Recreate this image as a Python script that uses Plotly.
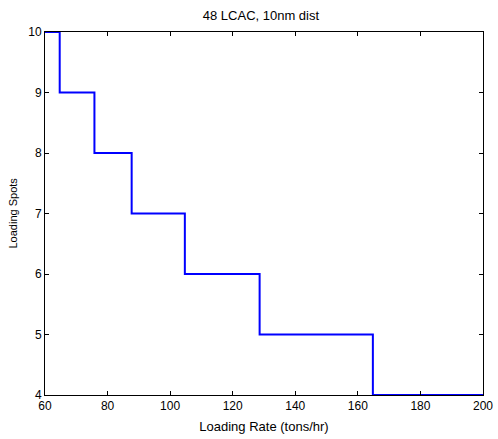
import plotly.graph_objects as go

loading_rate = [60, 64.7, 75.8, 87.7, 104.7, 128.6, 164.8, 200]
loading_spots = [10, 9, 8, 7, 6, 5, 4, 4]
x_ticks = [60, 80, 100, 120, 140, 160, 180, 200]
y_ticks = [4, 5, 6, 7, 8, 9, 10]

fig = go.Figure()
fig.add_trace(go.Scatter(x=loading_rate, y=loading_spots, mode="lines",
                         line=dict(color="#0000ff", width=2, shape="hv"),
                         showlegend=False))

fam = "Liberation Sans, Arial, sans-serif"
tick_font = dict(family=fam, size=12, color="black")
axis_common = dict(showgrid=False, zeroline=False, showline=True, linecolor="black",
                   linewidth=1, mirror="ticks", ticks="inside", ticklen=4,
                   tickcolor="black", tickfont=tick_font, automargin=False)
fig.update_layout(
    template="none",
    width=498, height=439,
    margin=dict(l=45, r=15, t=32, b=44),
    paper_bgcolor="white", plot_bgcolor="white",
    font=dict(family=fam, size=12, color="black"),
    title=dict(text="48 LCAC, 10nm dist", x=0.524, xanchor="center", y=0.965,
               yanchor="middle", font=dict(family=fam, size=13, color="black")),
    xaxis=dict(range=[60, 200], tickvals=x_ticks, ticktext=[str(v) for v in x_ticks],
               title=dict(text="Loading Rate (tons/hr)", font=dict(family=fam, size=13, color="black"),
                          standoff=9), **axis_common),
    yaxis=dict(range=[4, 10], tickvals=y_ticks, ticktext=[str(v) for v in y_ticks],
               **axis_common),
    annotations=[dict(text="Loading Spots", textangle=-90, xref="paper", yref="paper",
                      x=0, y=0.5, xanchor="center", yanchor="middle", xshift=-33,
                      showarrow=False, font=dict(family=fam, size=11, color="black"))],
)
fig.write_html("out.html", config={"displayModeBar": False},
               post_script="document.body.style.margin='0px';")
